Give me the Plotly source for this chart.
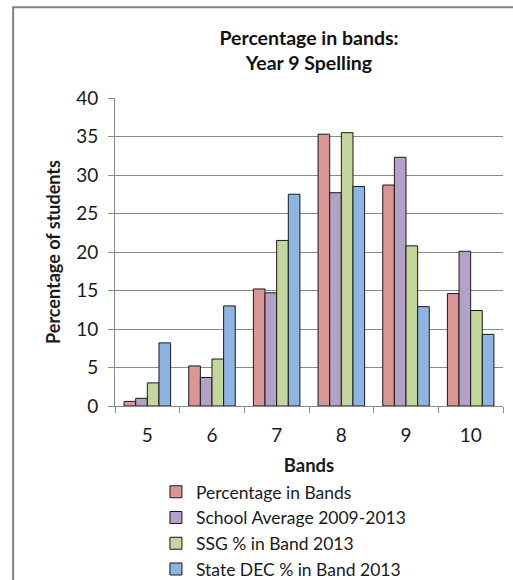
import plotly.graph_objects as go

# Year 9 spelling: share of students in each band
bands = ["5", "6", "7", "8", "9", "10"]
pct_in_bands = [0.6, 5.2, 15.2, 35.3, 28.7, 14.6]
school_avg_2009_2013 = [1.0, 3.7, 14.7, 27.7, 32.3, 20.1]
ssg_2013 = [3.0, 6.1, 21.5, 35.5, 20.8, 12.4]
state_dec_2013 = [8.2, 13.0, 27.5, 28.5, 12.9, 9.3]

series = [
    ("Percentage in Bands", pct_in_bands, "#D99694"),
    ("School Average 2009-2013", school_avg_2009_2013, "#B3A2C7"),
    ("SSG % in Band 2013", ssg_2013, "#C3D69B"),
    ("State DEC % in Band 2013", state_dec_2013, "#8EB4E3"),
]

FONT = "Lato, Calibri, sans-serif"
GRID = "#8a8a8a"

fig = go.Figure()
for i, (name, vals, color) in enumerate(series):
    fig.add_trace(go.Bar(
        x=bands, y=vals, name=name, legendgroup=f"g{i}",
        marker=dict(color=color, line=dict(color="#1a1a1a", width=1)),
    ))

# plot area in pixels: x 115..503.5, y 97.5..406
W, H = 513, 580
L, R, T, B = 115, 9.5, 97.5, 174
pw, ph = W - L - R, H - T - B

def px_x(x):
    return (x - L) / pw

def px_y(y):
    return 1 - (y - T) / ph

fig.update_layout(
    width=W, height=H,
    margin=dict(l=L, r=R, t=T, b=B, autoexpand=False),
    paper_bgcolor="white", plot_bgcolor="white",
    font=dict(family=FONT, size=18, color="#1a1a1a"),
    barmode="group", bargap=0.28, bargroupgap=0,
    title=dict(
        text="<b>Percentage in bands:</b><br><b>Year 9 Spelling</b>",
        font=dict(family=FONT, size=19.5, color="#111"),
        x=0.5, xref="paper", xanchor="center",
        y=1 - 45 / H, yanchor="middle",
    ),
    xaxis=dict(
        type="category", showgrid=False,
        showline=True, linecolor=GRID, linewidth=1,
        ticks="outside", tickson="boundaries", ticklen=6, tickcolor=GRID,
        tickfont=dict(size=19), ticklabelstandoff=12,
        title=dict(text="<b>Bands</b>", font=dict(size=18.5), standoff=14),
    ),
    yaxis=dict(
        range=[0, 40], dtick=5, tick0=0,
        showgrid=True, gridcolor=GRID, gridwidth=1,
        showline=True, linecolor=GRID, linewidth=1,
        ticks="outside", ticklen=6, tickcolor=GRID,
        tickfont=dict(size=19), ticklabelstandoff=6, zeroline=False,
        title=dict(text="<b>Percentage of students</b>", font=dict(size=18), standoff=10),
    ),
    legend=dict(
        orientation="v", traceorder="grouped", tracegroupgap=0,
        x=px_x(156), xanchor="left", y=px_y(474), yanchor="top",
        font=dict(size=17.5), bgcolor="rgba(0,0,0,0)",
        itemclick=False, itemdoubleclick=False,
    ),
    showlegend=True,
)

# outer chart frame (left and top edges visible)
fig.add_shape(
    type="rect", xref="paper", yref="paper",
    x0=px_x(13), x1=px_x(W + 20), y0=px_y(H + 20), y1=px_y(6.7),
    line=dict(color="#808080", width=2), fillcolor="rgba(0,0,0,0)", layer="below",
)

fig.write_html("out.html")
